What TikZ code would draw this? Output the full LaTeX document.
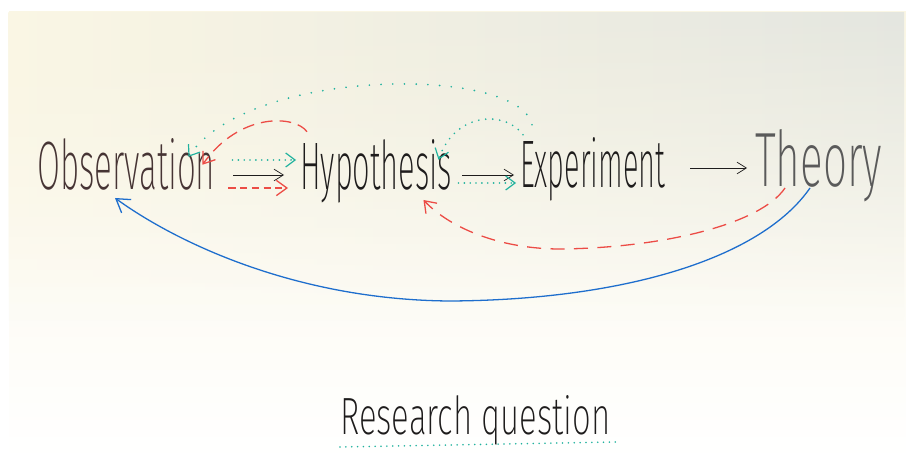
\documentclass[tikz,border=0pt]{standalone}
\usepackage{fontspec}
\usepackage{graphicx}
\usetikzlibrary{positioning,arrows.meta,calc,fadings}
\newfontfamily\handfont{Fira Sans}[UprightFont=* ExtraLight]
\newlength\pxu
\setlength\pxu{0.03cm}
% squeeze a word into a box of given width and height (in px)
\newcommand\handword[3]{\resizebox{#1\pxu}{#2\pxu}{#3}}
\definecolor{inkblack}{RGB}{30,28,28}
\definecolor{inkbrown}{RGB}{70,52,52}
\definecolor{inkgray}{RGB}{90,90,90}
\definecolor{markerteal}{RGB}{32,178,158}
\definecolor{markerred}{RGB}{236,76,70}
\definecolor{markerblue}{RGB}{30,110,205}
\definecolor{boardcream}{RGB}{250,246,228}
\definecolor{boardmid}{RGB}{252,250,241}
\definecolor{boardgray}{RGB}{228,230,224}

\begin{document}
\begin{tikzpicture}[
      x=0.03cm, y=-0.03cm,
      word/.style={font=\handfont, inner sep=0pt, anchor=base west},
      plain/.style={-{Straight Barb[length=8pt,width=10pt]}, line width=0.6pt, draw=inkblack},
      dots/.style={-{Straight Barb[length=8pt,width=12pt,line width=1pt]}, draw=markerteal, line cap=round, dash pattern=on 0pt off 5pt, line width=1.6pt},
      dashes/.style={-{Straight Barb[length=9pt,width=13pt,line width=1.1pt]}, draw=markerred, dash pattern=on 7pt off 5pt, line width=1.1pt}
  ]
    \useasboundingbox (0,0) rectangle (906,461);
    \fill[white] (0,0) rectangle (906,461);
    \shade[top color=boardcream, middle color=boardmid, bottom color=white] (9,12) rectangle (906,461);
    \shade[left color=boardcream, right color=boardgray, path fading=south] (9,12) rectangle (906,320);

    % the chain
    \node[word, text=inkbrown] (obs) at (37,190) {\handword{178}{51}{Observation}};
    \node[word, text=inkblack] (hyp) at (300,190) {\handword{152}{50}{Hypothesis}};
    \node[word, text=inkblack] (exp) at (520,188) {\handword{145}{50}{Experiment}};
    \node[word, text=inkgray] (theo) at (755,187) {\handword{127}{57}{Theory}};
    \node[word, text=inkblack] (rq) at (340,434) {\handword{270}{39}{Research question}};

    \draw[plain] ($(obs.base east)+(18,-15)$) -- ($(hyp.base west)+(-16,-15)$);
    \draw[dots] ($(obs.base east)+(17,-30)$) -- ($(hyp.base west)+(-4,-30)$);
    \draw[dashes, dash pattern=on 6pt off 4pt] ($(obs.base east)+(13,-2)$) -- ($(hyp.base west)+(-12,-2)$);
    \draw[plain] ($(hyp.base east)+(10,-15)$) -- ($(exp.base west)+(-6,-13)$);
    \draw[dots] ($(hyp.base east)+(6,-7)$) -- ($(exp.base west)+(-4,-5)$);
    \draw[plain] ($(exp.base east)+(25,-20)$) -- ($(theo.base west)+(-8,-19)$);

    % loops back
    \draw[dots, dash pattern=on 0pt off 10pt] ($(exp.north west)+(12,-13)$) .. controls (520,66) and (250,66) .. ($(obs.north east)+(-27,18)$);
    \draw[dashes, dash pattern=on 10pt off 6pt] ($(hyp.north west)+(7,-8)$) .. controls (295,115) and (240,112) .. ($(obs.north east)+(-13,26)$);
    \draw[dots, dash pattern=on 0pt off 6pt] ($(exp.north west)+(3,-3)$) .. controls (505,110) and (455,112) .. ($(hyp.north east)+(-14,20)$);
    \draw[dashes, dash pattern=on 12pt off 8pt] ($(theo.base west)+(30,1)$) .. controls (760,225) and (660,248) .. (560,249) .. controls (500,249) and (450,228) .. ($(hyp.base east)+(-29,10)$);
    \draw[-{Straight Barb[length=11pt,width=14pt]}, draw=markerblue, line width=1.1pt] ($(theo.base west)+(55,1)$) .. controls (760,260) and (620,300) .. (450,301) .. controls (300,300) and (180,245) .. ($(obs.base west)+(78,8)$);

    \draw[markerteal, line cap=round, dash pattern=on 0pt off 5pt, line width=1.5pt] ($(rq.base west)+(0,13)$) -- ($(rq.base east)+(5,8)$);
  \end{tikzpicture}
\end{document}
